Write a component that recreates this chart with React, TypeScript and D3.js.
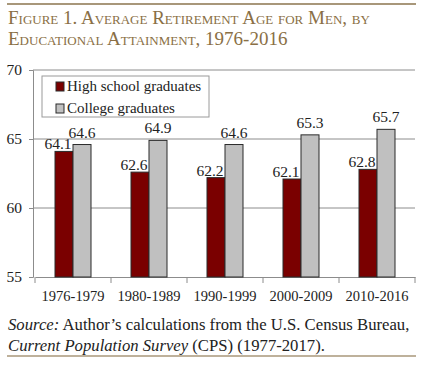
import React, { useRef, useEffect } from 'react'
import { select, scaleLinear, scaleBand, axisLeft, axisBottom } from 'd3'

const periods = ['1976-1979', '1980-1989', '1990-1999', '2000-2009', '2010-2016']
const highSchool = [64.1, 62.6, 62.2, 62.1, 62.8]
const college = [64.6, 64.9, 64.6, 65.3, 65.7]
const yTicks = [55, 60, 65, 70]
const seriesNames = ['High school graduates', 'College graduates']
const seriesColors = ['#7a0000', '#c0c0c0']

const W = 427
const H = 366

function App() {
  const ref = useRef<SVGSVGElement>(null)

  useEffect(() => {
    const svg = select(ref.current)
    svg.selectAll('*').remove()
    const font = '"Liberation Serif", "DejaVu Serif", serif'
    const tan = '#a8977a'

    // top / bottom rules
    svg.append('line').attr('x1', 7).attr('x2', 416).attr('y1', 4).attr('y2', 4)
      .attr('stroke', tan).attr('stroke-width', 2)
    svg.append('line').attr('x1', 7).attr('x2', 416).attr('y1', 356).attr('y2', 356)
      .attr('stroke', tan).attr('stroke-width', 1.5)

    const titleLines = ['Figure 1. Average Retirement Age for Men, by', 'Educational Attainment, 1976-2016']
    titleLines.forEach((t, i) => {
      svg.append('text').attr('x', 8).attr('y', 24 + i * 21).text(t)
        .attr('font-family', font).attr('font-size', 19)
        .style('font-variant', 'small-caps').attr('fill', '#8a6f45')
    })

    const x = scaleBand().domain(periods).range([35, 415])
    const y = scaleLinear().domain([55, 70]).range([277, 70])
    const bw = 18

    const g = svg.append('g')

    // gridlines
    g.selectAll('.grid').data(yTicks.slice(1)).enter().append('line')
      .attr('x1', 33).attr('x2', 415)
      .attr('y1', d => y(d)).attr('y2', d => y(d))
      .attr('stroke', '#8c8c8c').attr('stroke-width', 1)

    const ya = g.append('g').attr('transform', 'translate(33,0)')
      .call(axisLeft(y).tickValues(yTicks).tickSize(4).tickPadding(7).tickFormat(d => String(d)))
    ya.select('.domain').attr('stroke', '#8c8c8c')
    ya.selectAll('line').attr('stroke', '#8c8c8c')
    ya.selectAll('text').attr('font-family', font).attr('font-size', 15.5).attr('fill', '#222')

    const xa = g.append('g').attr('transform', 'translate(0,277)')
      .call(axisBottom(x).tickSize(0).tickPadding(14))
    xa.select('.domain').attr('stroke', '#8c8c8c')
    xa.selectAll('text').attr('font-family', font).attr('font-size', 14.5).attr('fill', '#222')
    // tick marks at band edges
    g.selectAll('.xt').data([...periods.map(p => x(p) as number), 415]).enter().append('line')
      .attr('x1', d => d).attr('x2', d => d).attr('y1', 277).attr('y2', 283)
      .attr('stroke', '#8c8c8c')

    const series = [highSchool, college]
    series.forEach((vals, si) => {
      vals.forEach((v, i) => {
        const cx = (x(periods[i]) as number) + x.bandwidth() / 2
        const bx = cx - bw + si * bw
        g.append('rect').attr('x', bx).attr('y', y(v)).attr('width', bw).attr('height', y(55) - y(v))
          .attr('fill', seriesColors[si]).attr('stroke', '#2a2a2a').attr('stroke-width', 1)
        g.append('text').attr('x', bx + bw / 2 + (si === 0 ? -6 : 0)).attr('y', y(v) - (si === 0 ? 2 : 7))
          .attr('text-anchor', 'middle').text(v.toFixed(1))
          .attr('font-family', font).attr('font-size', 15.5).attr('fill', '#222')
      })
    })

    // legend
    const lg = g.append('g')
    lg.append('rect').attr('x', 42).attr('y', 76).attr('width', 167).attr('height', 41)
      .attr('fill', 'white').attr('stroke', '#9a9a9a')
    seriesNames.forEach((n, i) => {
      lg.append('rect').attr('x', 56).attr('y', 82 + i * 22).attr('width', 8).attr('height', 9)
        .attr('fill', seriesColors[i]).attr('stroke', '#2a2a2a')
      lg.append('text').attr('x', 67).attr('y', 91 + i * 22).text(n)
        .attr('font-family', font).attr('font-size', 15).attr('fill', '#222')
    })

    // source
    const s1 = svg.append('text').attr('x', 8).attr('y', 330)
      .attr('font-family', font).attr('font-size', 16.7).attr('fill', '#222')
    s1.append('tspan').attr('font-style', 'italic').text('Source:')
    s1.append('tspan').text(' Author\u2019s calculations from the U.S. Census Bureau,')
    const s2 = svg.append('text').attr('x', 8).attr('y', 351)
      .attr('font-family', font).attr('font-size', 16.7).attr('fill', '#222')
    s2.append('tspan').attr('font-style', 'italic').text('Current Population Survey')
    s2.append('tspan').text(' (CPS) (1977-2017).')
  }, [])

  return (
    <svg ref={ref} width={W} height={H} viewBox={`0 0 ${W} ${H}`}
      style={{ position: 'absolute', left: 0, top: 0, background: 'white' }} />
  )
}

export default App
